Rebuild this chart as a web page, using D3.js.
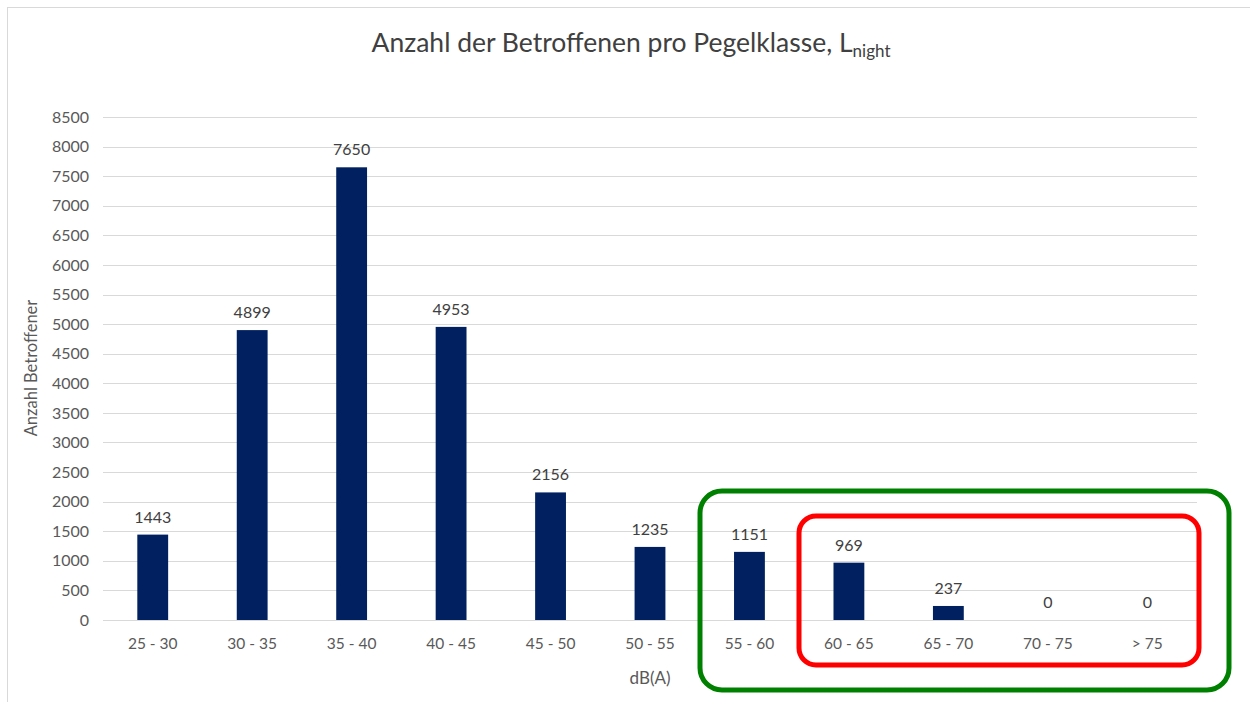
<!DOCTYPE html>
<meta charset="utf-8">
<script src="https://d3js.org/d3.v7.min.js"></script>
<style>
  body { margin: 0; background: #fff; }
  text { font-family: Lato, "Open Sans", sans-serif; }
</style>
<body>
<svg id="svg" width="1250" height="702"></svg>
<script>
// data
var categories = ["25 - 30", "30 - 35", "35 - 40", "40 - 45", "45 - 50", "50 - 55",
                  "55 - 60", "60 - 65", "65 - 70", "70 - 75", "> 75"];
var values = [1443, 4899, 7650, 4953, 2156, 1235, 1151, 969, 237, 0, 0];
var yTicks = d3.range(0, 8501, 500);

var svg = d3.select("#svg");

// chart frame
svg.append("rect")
    .attr("x", 7.5).attr("y", 7.5)
    .attr("width", 1260).attr("height", 720)
    .attr("fill", "#fff")
    .attr("stroke", "#d9d9d9");

var margin = { left: 103, right: 1197, top: 117, bottom: 620 };

var x = d3.scaleBand()
    .domain(categories)
    .range([margin.left, margin.right])
    .paddingInner(0.69)
    .paddingOuter(0.345);

var y = d3.scaleLinear()
    .domain([0, 8500])
    .range([margin.bottom, margin.top]);

// gridlines
svg.append("g")
    .selectAll("line")
    .data(yTicks)
    .enter()
    .append("line")
    .attr("x1", margin.left)
    .attr("x2", margin.right)
    .attr("y1", function(d) { return Math.round(y(d)) + 0.5; })
    .attr("y2", function(d) { return Math.round(y(d)) + 0.5; })
    .attr("stroke", "#d9d9d9")
    .attr("stroke-width", 1);

// y axis
var yAxis = svg.append("g")
    .attr("transform", "translate(" + (margin.left - 14) + ",0)")
    .call(d3.axisLeft(y).tickValues(yTicks).tickFormat(d3.format("d")).tickSize(0).tickPadding(0));
yAxis.select(".domain").remove();
yAxis.selectAll("text")
    .attr("fill", "#595959")
    .style("font-size", "16px");

// x axis
var xAxis = svg.append("g")
    .attr("transform", "translate(0," + margin.bottom + ")")
    .call(d3.axisBottom(x).tickSize(0).tickPadding(18));
xAxis.select(".domain").remove();
xAxis.selectAll("text")
    .attr("fill", "#595959")
    .style("font-size", "15.5px");

// bars
svg.append("g")
    .selectAll("rect")
    .data(values)
    .enter()
    .append("rect")
    .attr("x", function(d, i) { return x(categories[i]); })
    .attr("y", function(d) { return y(d); })
    .attr("width", x.bandwidth())
    .attr("height", function(d) { return y(0) - y(d); })
    .attr("fill", "#002060");

// value labels
svg.append("g")
    .selectAll("text")
    .data(values)
    .enter()
    .append("text")
    .attr("x", function(d, i) { return x(categories[i]) + x.bandwidth() / 2; })
    .attr("y", function(d) { return y(d) - 12; })
    .attr("text-anchor", "middle")
    .attr("fill", "#404040")
    .style("font-size", "16px")
    .text(function(d) { return d; });

// title
var title = svg.append("text")
    .attr("x", 631)
    .attr("y", 52)
    .attr("text-anchor", "middle")
    .attr("fill", "#404040")
    .style("font-size", "26.5px");
title.append("tspan").text("Anzahl der Betroffenen pro Pegelklasse, L");
title.append("tspan").attr("dy", 5).style("font-size", "17px").text("night");

// axis titles
svg.append("text")
    .attr("transform", "translate(37,368) rotate(-90)")
    .attr("text-anchor", "middle")
    .attr("fill", "#595959")
    .style("font-size", "16.5px")
    .text("Anzahl Betroffener");

svg.append("text")
    .attr("x", 650)
    .attr("y", 684)
    .attr("text-anchor", "middle")
    .attr("fill", "#595959")
    .style("font-size", "17px")
    .text("dB(A)");

// highlight boxes
svg.append("rect")
    .attr("x", 700).attr("y", 491)
    .attr("width", 529).attr("height", 199)
    .attr("rx", 22).attr("ry", 22)
    .attr("fill", "none")
    .attr("stroke", "#008000")
    .attr("stroke-width", 5);

svg.append("rect")
    .attr("x", 799).attr("y", 516)
    .attr("width", 400).attr("height", 149)
    .attr("rx", 17).attr("ry", 17)
    .attr("fill", "none")
    .attr("stroke", "#ff0000")
    .attr("stroke-width", 5);
</script>
</body>
